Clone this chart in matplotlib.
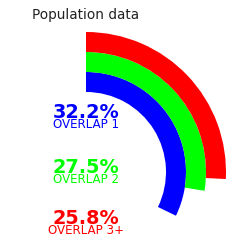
import matplotlib
matplotlib.use('Agg')
import matplotlib.pyplot as plt
from matplotlib.patches import Wedge

# data
labels = ['OVERLAP 1', 'OVERLAP 2', 'OVERLAP 3+']
values = [32.2, 27.5, 25.8]
colors = ['#0000ff', '#00ff00', '#ff0000']

W, H = 251, 248
fig = plt.figure(figsize=(W / 100, H / 100), dpi=100)
ax = fig.add_axes([0, 0, 1, 1])
ax.set_xlim(0, W)
ax.set_ylim(0, H)
ax.axis('off')

# arcs: innermost is first series, clockwise from the top
cx, cy = 86, H - 172
r0, band = 80, 20
for i, (v, c) in enumerate(zip(values, colors)):
    r = r0 + band * (i + 1)
    ax.add_patch(Wedge((cx, cy), r, 90 - v / 100 * 360, 90, width=band,
                       facecolor=c, edgecolor='none'))

# labels
base_y = [118, 173, 224]
for v, lab, c, y in zip(values, labels, colors, base_y):
    ax.text(cx, H - y, f'{v:.1f}%', color=c, fontsize=13.9, fontweight='bold',
            ha='center', va='baseline')
    ax.text(cx, H - y - 10, lab, color=c, fontsize=8.6,
            ha='center', va='baseline')

ax.text(32, H - 19, 'Population data', fontsize=9.8, color='#222222',
        ha='left', va='baseline')

fig.savefig('out.png', dpi=100)
